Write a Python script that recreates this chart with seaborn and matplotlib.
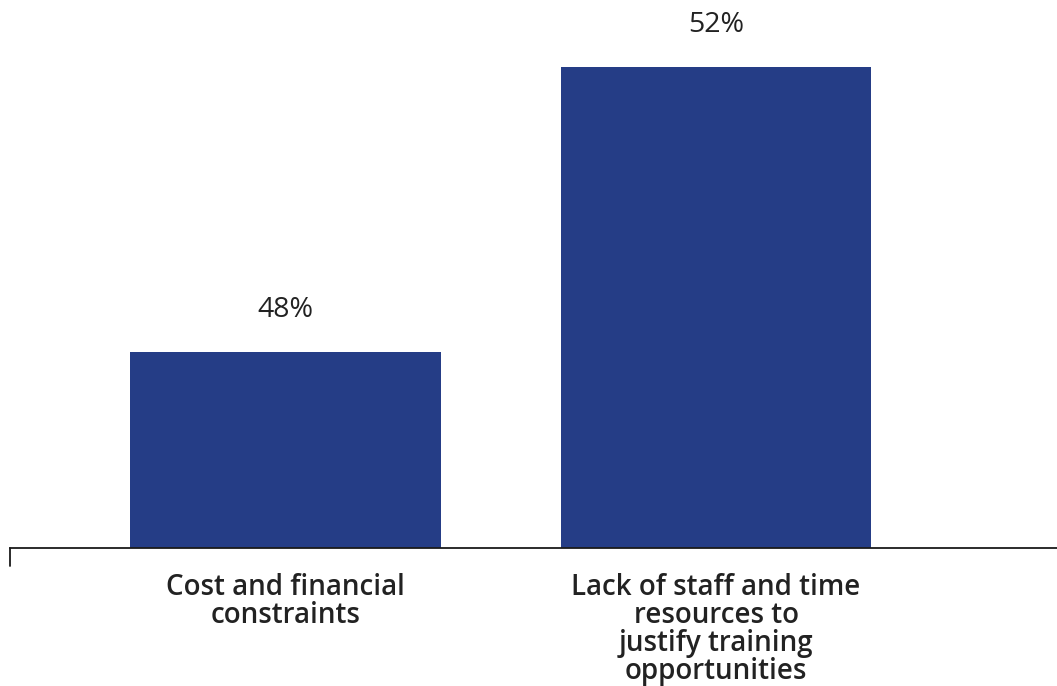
import matplotlib
matplotlib.use("Agg")
import matplotlib.pyplot as plt
import seaborn as sns
import pandas as pd

categories = ["Cost and financial\nconstraints",
              "Lack of staff and time\nresources to\njustify training\nopportunities"]
values = [48, 52]
value_labels = ["48%", "52%"]

BAR_COLOR = "#253d86"
TEXT_COLOR = "#222222"

sns.set_theme(style="white")
plt.rcParams["font.family"] = ["Open Sans", "DejaVu Sans"]

df = pd.DataFrame({"category": categories, "value": values})

fig = plt.figure(figsize=(10.57, 6.86), dpi=100)
ax = fig.add_axes([10 / 1057, 138 / 686, 1 - 10 / 1057, 548 / 686])

sns.barplot(data=df, x="category", y="value", color=BAR_COLOR,
            saturation=1, width=0.722, linewidth=0, ax=ax)

ax.set_xlim(-0.64, 1.792)
ax.set_ylim(45.25, 52.94)

for patch, lab in zip(ax.patches, value_labels):
    ax.annotate(lab, (patch.get_x() + patch.get_width() / 2, patch.get_height()),
                xytext=(0, 20), textcoords="offset points", ha="center",
                va="bottom", fontsize=20.5, fontweight="medium", color=TEXT_COLOR)

ax.set_xlabel("")
ax.set_ylabel("")
ax.set_yticks([])
ax.tick_params(axis="x", length=0, pad=18)
for t in ax.get_xticklabels():
    t.set_fontsize(20)
    t.set_fontweight("semibold")
    t.set_color(TEXT_COLOR)
    t.set_linespacing(0.95)

for s in ["top", "right", "left"]:
    ax.spines[s].set_visible(False)
ax.spines["bottom"].set_color("#1a1a1a")
ax.spines["bottom"].set_linewidth(1.3)

# short stub at the left end of the baseline
ax.plot([0, 0], [0, -18 / 548], transform=ax.transAxes, color="#1a1a1a",
        linewidth=1.3, clip_on=False)

fig.savefig("out.png", dpi=100)
